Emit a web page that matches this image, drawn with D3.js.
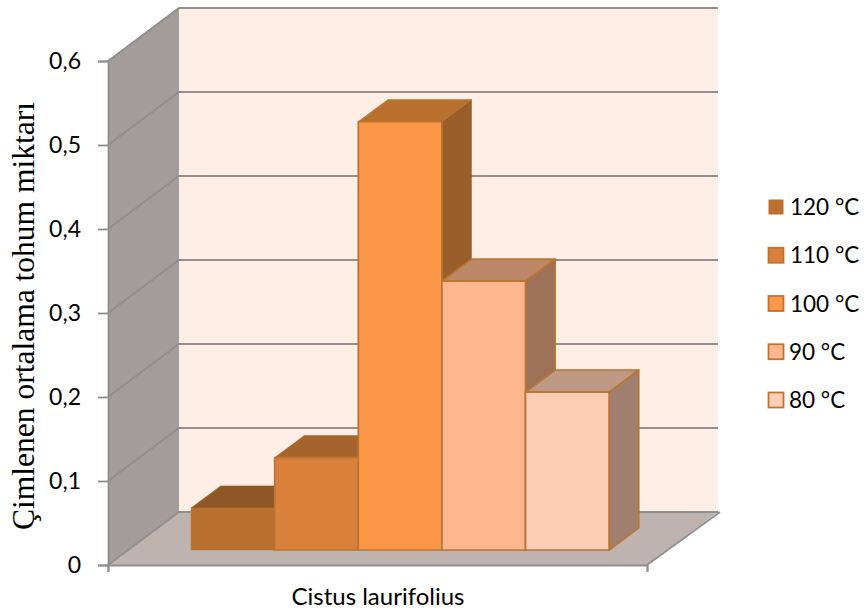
<!DOCTYPE html>
<html><head><meta charset="utf-8">
<script src="https://cdn.jsdelivr.net/npm/d3@7"></script>
<style>html,body{margin:0;padding:0;background:#fff}svg{display:block}</style>
</head><body><svg id="c" width="867" height="616"></svg>
<script>
const seriesNames = ["120 °C","110 °C","100 °C","90 °C","80 °C"];
const seriesValues = [0.05,0.11,0.51,0.32,0.188];
const frontColors = ["#B96F2E","#D9803B","#FB9747","#FDB68D","#FFCCB5"];
const topColors = ["#8E5826","#A5642C","#B9702F","#BD8869","#BE9985"];
const sideColors = ["#7F4E22","#8A5526","#9A5E2A","#9D7258","#A07F70"];
const yTicks = [0,0.1,0.2,0.3,0.4,0.5,0.6];
const categoryLabel = "Cistus laurifolius";
const yTitle = "Çimlenen ortalama tohum miktarı";

const svg = d3.select("#c");
const y = d3.scaleLinear().domain([0,0.6]).range([565,61]);
const x = d3.scaleBand().domain(seriesNames).range([171,589]);
const depthX = 71, depthY = 53;
const P = (px,py,z)=>[px+z*depthX, py-z*depthY];
const poly = pts => pts.map(p=>p.join(",")).join(" ");
const GRID="#8F8F8F", EDGE="#BC7432";
const sans="Lato, 'Open Sans', sans-serif";

const x0=108,x1=647;
// walls
svg.append("polygon").attr("points",poly([P(x0,y(0),1),P(x1,y(0),1),P(x1,y(0.6),1),P(x0,y(0.6),1)])).attr("fill","#FEEEE6");
svg.append("polygon").attr("points",poly([P(x0,y(0),0),P(x0,y(0),1),P(x0,y(0.6),1),P(x0,y(0.6),0)])).attr("fill","#A39C98");
svg.append("polygon").attr("points",poly([P(x0,y(0),0),P(x1,y(0),0),P(x1,y(0),1),P(x0,y(0),1)])).attr("fill","#BEB3AE");
// gridlines
yTicks.forEach(t=>{
  svg.append("polyline").attr("points",poly([P(x0,y(t),0),P(x0,y(t),1),P(x1,y(t),1)])).attr("fill","none").attr("stroke",GRID).attr("stroke-width",1.8);
});
// floor edge
svg.append("line").attr("x1",x1).attr("y1",y(0)).attr("x2",x1+depthX+2).attr("y2",y(0)-depthY).attr("stroke",GRID).attr("stroke-width",1.8);
// axes
const yAxis = d3.axisLeft(y).tickValues(yTicks).tickSize(10).tickPadding(17).tickFormat(d=>d===0?"0":d3.format(".1f")(d).replace(".",","));
const gy = svg.append("g").attr("transform",`translate(${x0},0)`).call(yAxis);
gy.selectAll("path,line").attr("stroke",GRID).attr("stroke-width",1.8);
gy.selectAll("text").attr("font-family",sans).attr("font-size",23).attr("fill","#000");
const xAxis = d3.axisBottom(d3.scaleLinear().domain([0,1]).range([x0,x1])).tickValues([0,1]).tickSize(7).tickFormat("");
const gx = svg.append("g").attr("transform",`translate(0,${y(0)})`).call(xAxis);
gx.selectAll("path,line").attr("stroke",GRID).attr("stroke-width",1.8);
// bars
const zF=0.283, zB=0.70;
seriesNames.forEach((s,i)=>{
  const xl=x(s), xr=xl+x.bandwidth(), yt=y(seriesValues[i]), yb=y(0);
  const g=svg.append("g").attr("stroke-linejoin","round");
  const sw = i===0?0.5:1.7;
  g.append("polygon").attr("points",poly([P(xr,yb,zF),P(xr,yb,zB),P(xr,yt,zB),P(xr,yt,zF)])).attr("fill",sideColors[i]).attr("stroke",i>=3?EDGE:sideColors[i]).attr("stroke-width",i>=3?1.7:0.5);
  g.append("polygon").attr("points",poly([P(xl,yt,zF),P(xr,yt,zF),P(xr,yt,zB),P(xl,yt,zB)])).attr("fill",topColors[i]).attr("stroke",i>=3?EDGE:topColors[i]).attr("stroke-width",i>=3?1.7:0.5);
  g.append("polygon").attr("points",poly([P(xl,yb,zF),P(xr,yb,zF),P(xr,yt,zF),P(xl,yt,zF)])).attr("fill",frontColors[i]).attr("stroke",EDGE).attr("stroke-width",sw);
});
// category label
svg.append("text").attr("x",378).attr("y",605).attr("text-anchor","middle").attr("font-family",sans).attr("font-size",24).attr("fill","#000").text(categoryLabel);
// y title
svg.append("text").attr("transform","translate(34,316) rotate(-90)").attr("text-anchor","middle").attr("font-family","'Liberation Serif',serif").attr("font-size",31.5).attr("fill","#000").text(yTitle);
// legend
const ly=d3.scalePoint().domain(seriesNames).range([207,400]);
seriesNames.forEach((s,i)=>{
  svg.append("rect").attr("x",768.5).attr("y",ly(s)-7.5).attr("width",15).attr("height",15).attr("fill",frontColors[i]).attr("stroke",EDGE).attr("stroke-width",i===0?0:1.8);
  svg.append("text").attr("x",i<3?790:789).attr("y",ly(s)+8).attr("font-family",sans).attr("font-size",22.5).attr("fill","#000").text(s);
});
</script></body></html>
